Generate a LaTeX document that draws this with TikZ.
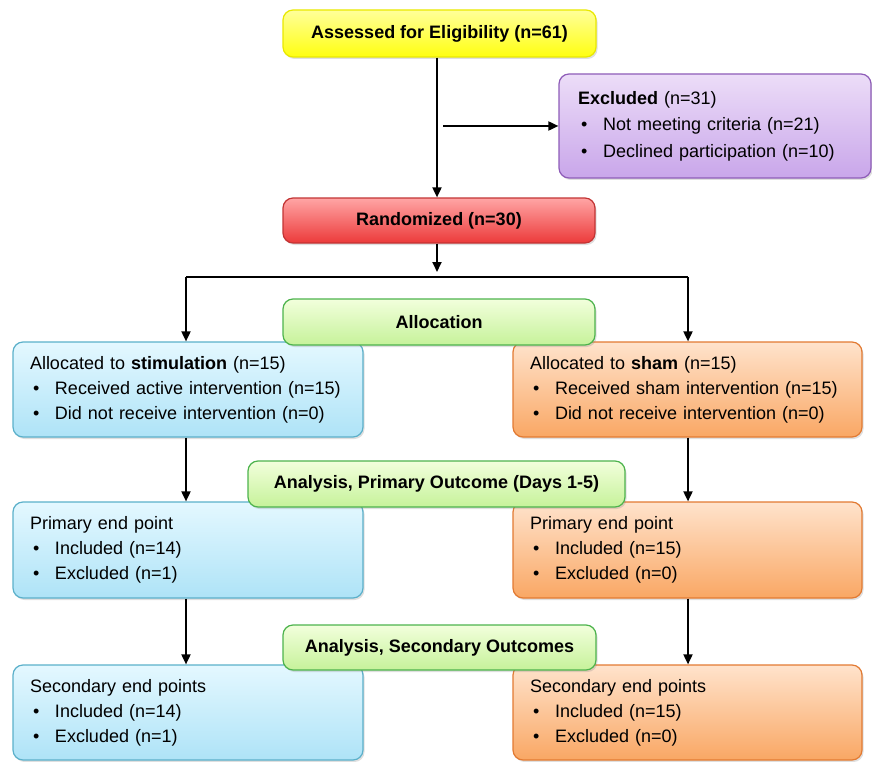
\documentclass[tikz,border=0pt]{standalone}
\usepackage{fontspec}
\setmainfont{Liberation Sans}
\usetikzlibrary{shadows,arrows.meta}
\newcommand\itm{\makebox[25pt][l]{\hspace{3pt}\textbullet}}
\definecolor{yelT}{HTML}{FFFF9A}\definecolor{yelB}{HTML}{FFFF10}\definecolor{yelD}{HTML}{E8E800}
\definecolor{purT}{HTML}{ECDDF8}\definecolor{purB}{HTML}{C9A6EA}\definecolor{purD}{HTML}{8E5CB8}
\definecolor{redT}{HTML}{FFA5A5}\definecolor{redB}{HTML}{EC3A3A}\definecolor{redD}{HTML}{C23434}
\definecolor{grnT}{HTML}{F2FFDC}\definecolor{grnB}{HTML}{C6F29A}\definecolor{grnD}{HTML}{4DB34D}
\definecolor{bluT}{HTML}{E4F8FF}\definecolor{bluB}{HTML}{AEE3F7}\definecolor{bluD}{HTML}{5BB0CA}
\definecolor{orgT}{HTML}{FFE3CC}\definecolor{orgB}{HTML}{F9A764}\definecolor{orgD}{HTML}{E27A32}
\tikzset{
  box/.style={rounded corners=10pt, line width=1.2pt,
    drop shadow={opacity=0.25, shadow xshift=1.5pt, shadow yshift=-2pt}},
  titlebox/.style={box, font=\bfseries\fontsize{18}{22}\selectfont, inner sep=0pt},
  listbox/.style={box, align=left, text width=#1, inner xsep=17pt, inner ysep=0pt,
    font=\fontsize{18}{25}\selectfont},
  yel/.style={top color=yelT, bottom color=yelB, draw=yelD},
  pur/.style={top color=purT, bottom color=purB, draw=purD},
  red/.style={top color=redT, bottom color=redB, draw=redD},
  grn/.style={top color=grnT, bottom color=grnB, draw=grnD},
  blu/.style={top color=bluT, bottom color=bluB, draw=bluD},
  org/.style={top color=orgT, bottom color=orgB, draw=orgD},
  arr/.style={line width=1.8pt, -{Triangle[length=10pt,width=9pt]}},
  ln/.style={line width=1.8pt}
}
\begin{document}
\begin{tikzpicture}[x=1pt,y=-1pt]
\useasboundingbox (0,0) rectangle (872,762);
% top part
\node[titlebox, yel, minimum width=313, minimum height=47] (assess) at (439.5,33.5) {Assessed for Eligibility (n=61)};
\node[listbox=274, pur, inner xsep=19pt, minimum height=104, font=\fontsize{18}{26.5}\selectfont] (excl) at (715,126)
  {\textbf{Excluded} (n=31)\\\itm Not meeting criteria (n=21)\\\itm Declined participation (n=10)};
\node[titlebox, red, minimum width=312, minimum height=45] (rand) at (439,220.5) {Randomized (n=30)};
% allocated
\node[listbox=316, blu, minimum height=95] (stim) at (188,389.5)
  {Allocated to \textbf{stimulation} (n=15)\\\itm Received active intervention (n=15)\\\itm Did not receive intervention (n=0)};
\node[listbox=315, org, minimum height=95] (sham) at (687.5,389.5)
  {Allocated to \textbf{sham} (n=15)\\\itm Received sham intervention (n=15)\\\itm Did not receive intervention (n=0)};
% primary
\node[listbox=316, blu, minimum height=96] (primL) at (188,550)
  {Primary end point\\\itm Included (n=14)\\\itm Excluded (n=1)};
\node[listbox=315, org, minimum height=96] (primR) at (687.5,550)
  {Primary end point\\\itm Included (n=15)\\\itm Excluded (n=0)};
% secondary
\node[listbox=316, blu, minimum height=95] (secL) at (188,712.5)
  {Secondary end points\\\itm Included (n=14)\\\itm Excluded (n=1)};
\node[listbox=315, org, minimum height=95] (secR) at (687.5,712.5)
  {Secondary end points\\\itm Included (n=15)\\\itm Excluded (n=0)};
% green stage labels (on top)
\node[titlebox, grn, minimum width=312, minimum height=46] (alloc) at (439,322) {Allocation};
\node[titlebox, grn, minimum width=377, minimum height=46] (anpri) at (436.5,484) {Analysis, Primary Outcome (Days 1-5)};
\node[titlebox, grn, minimum width=313, minimum height=45] (ansec) at (439.5,647.5) {Analysis, Secondary Outcomes};
% connectors
\coordinate (b1) at (437,126);
\coordinate (b1s) at (443,126);
\coordinate (split) at (437,272);
\coordinate (sl) at (186,277);
\coordinate (sr) at (688,277);
\draw[arr] (assess.south -| b1) -- (rand.north -| b1);
\draw[arr] (b1s) -- (excl.west);
\draw[arr] (rand.south -| split) -- (split);
\draw[ln] (sl) -- (sr);
\draw[arr] (sl) -- (stim.north -| sl);
\draw[arr] (sr) -- (sham.north -| sr);
\draw[arr] (stim.south -| sl) -- (primL.north -| sl);
\draw[arr] (sham.south -| sr) -- (primR.north -| sr);
\draw[arr] (primL.south -| sl) -- (secL.north -| sl);
\draw[arr] (primR.south -| sr) -- (secR.north -| sr);
\end{tikzpicture}
\end{document}
